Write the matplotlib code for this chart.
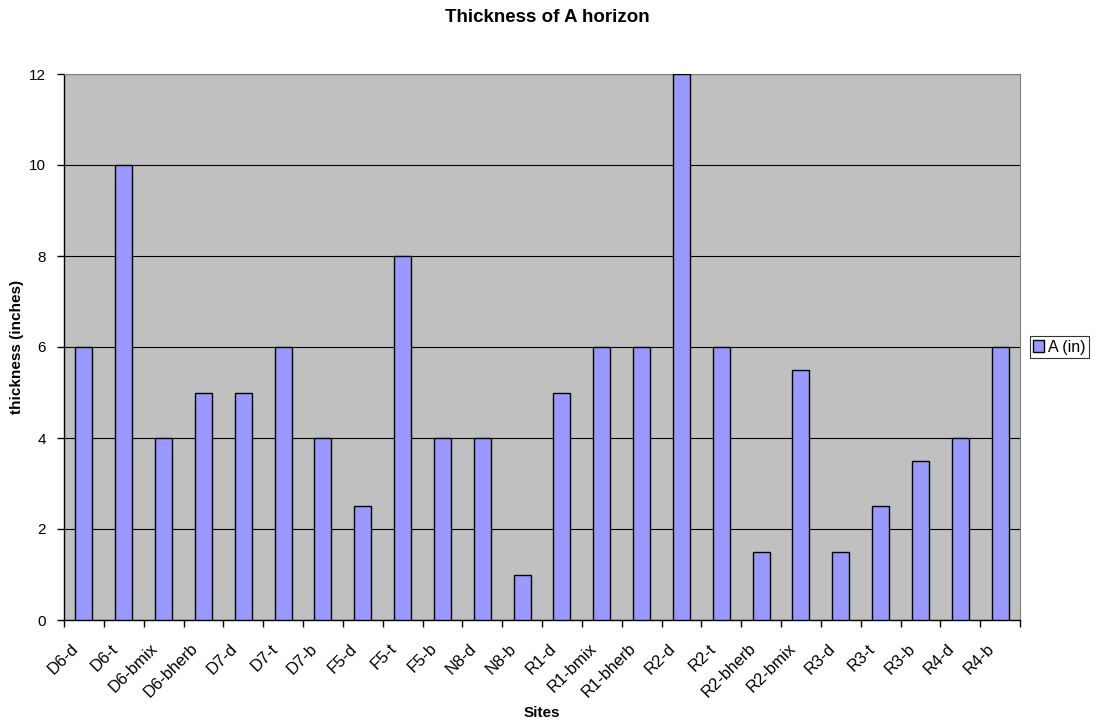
import matplotlib
matplotlib.use("Agg")
import matplotlib.pyplot as plt
from matplotlib.patches import Patch
from matplotlib.transforms import ScaledTranslation

plt.rcParams['font.family'] = ['Liberation Sans', 'DejaVu Sans']

sites = ["D6-d", "D6-t", "D6-bmix", "D6-bherb", "D7-d", "D7-t", "D7-b", "F5-d",
         "F5-t", "F5-b", "N8-d", "N8-b", "R1-d", "R1-bmix", "R1-bherb", "R2-d",
         "R2-t", "R2-bherb", "R2-bmix", "R3-d", "R3-t", "R3-b", "R4-d", "R4-b"]
a_in = [6, 10, 4, 5, 5, 6, 4, 2.5, 8, 4, 4, 1, 5, 6, 6, 12, 6, 1.5, 5.5, 1.5,
        2.5, 3.5, 4, 6]
yticks = [0, 2, 4, 6, 8, 10, 12]

fig = plt.figure(figsize=(11, 7.23), dpi=100)
ax = fig.add_axes([64 / 1100, 1 - 620 / 723, 956 / 1100, 546 / 723])
ax.set_facecolor("#C0C0C0")

x = list(range(len(sites)))
ax.bar(x, a_in, width=0.43, color="#9999FF", edgecolor="black", linewidth=1.0,
       zorder=3)

ax.set_xlim(-0.5, len(sites) - 0.5)
ax.set_ylim(0, 12)
ax.set_yticks(yticks)
ax.yaxis.grid(True, color="black", linewidth=0.8, zorder=1)
ax.set_axisbelow(True)

# category labels at centres, tick marks between categories
ax.set_xticks(x)
ax.set_xticklabels(sites, rotation=45, ha="right", va="top",
                   rotation_mode="anchor", fontsize=12)
ax.tick_params(axis="x", length=0, pad=15)
shift = ScaledTranslation(-9.5 / 72, 0, fig.dpi_scale_trans)
for lbl in ax.get_xticklabels():
    lbl.set_transform(lbl.get_transform() + shift)
ax.set_xticks([i - 0.5 for i in range(len(sites) + 1)], minor=True)
ax.tick_params(axis="x", which="minor", length=5, width=1, direction="out")
ax.tick_params(axis="y", length=5, width=1, direction="out", labelsize=11,
               pad=8)

for side in ("top", "right"):
    ax.spines[side].set_color("#808080")
for side in ("left", "bottom"):
    ax.spines[side].set_color("black")
    ax.spines[side].set_linewidth(1.0)

fig.text(547 / 1100, 1 - 17 / 723, "Thickness of A horizon", fontsize=13.5,
         fontweight="bold", ha="center", va="center")
fig.text(542 / 1100, 1 - 713 / 723, "Sites", fontsize=11, fontweight="bold",
         ha="center", va="center")
fig.text(17 / 1100, 1 - 347 / 723, "thickness (inches)", fontsize=11,
         fontweight="bold", ha="center", va="center", rotation=90)

handles = [Patch(facecolor="#9999FF", edgecolor="black", label="A (in)")]
leg = fig.legend(handles=handles, loc="center left",
                 bbox_to_anchor=(1030 / 1100, 1 - 347 / 723), fontsize=11.5,
                 frameon=True, fancybox=False, edgecolor="black",
                 handlelength=0.7, handleheight=0.7, handletextpad=0.25,
                 borderpad=0.2, borderaxespad=0)
leg.get_frame().set_linewidth(0.8)

fig.savefig("out.png", dpi=100)
